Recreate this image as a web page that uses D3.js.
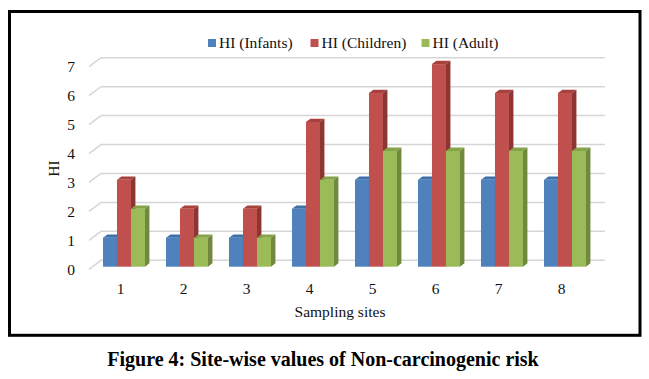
<!DOCTYPE html>
<head>
  <meta charset="utf-8">
  <script src='https://d3js.org/d3.v7.min.js'></script>
  <style>
    body { margin: 0; background: #fff; }
    .tick-label, .legend-label, .axis-title {
      font-family: 'Liberation Serif', serif;
      font-size: 15.5px;
      fill: #111;
    }
    .caption {
      font-family: 'Liberation Serif', 'Times New Roman', serif;
      font-weight: bold;
      font-size: 20px;
      fill: #000;
    }
    .grid { stroke: #d6d6d6; stroke-width: 1.5px; fill: none; }
  </style>
</head>
<body>
<script>
var sites = ['1', '2', '3', '4', '5', '6', '7', '8'];
var infants = [1, 1, 1, 2, 3, 3, 3, 3];
var children = [3, 2, 2, 5, 6, 7, 6, 6];
var adult = [2, 1, 1, 3, 4, 4, 4, 4];
var yTicks = [0, 1, 2, 3, 4, 5, 6, 7];
var seriesNames = ['HI (Infants)', 'HI (Children)', 'HI (Adult)'];

var width = 649, height = 379;
var svg = d3.select('body').append('svg')
  .attr('width', width)
  .attr('height', height);

// frame
svg.append('rect')
  .attr('x', 9.5).attr('y', 11.5)
  .attr('width', 630.5).attr('height', 323.8)
  .attr('fill', '#fff')
  .attr('stroke', '#000')
  .attr('stroke-width', 3);

// 3d depth of the floor: full depth moves right 12, up 9
var depthX = 12, depthY = -9;

var x = d3.scaleBand().domain(sites).range([89, 593]).paddingInner(0).paddingOuter(0);
var y = d3.scaleLinear().domain([0, 7]).range([269.3, 66.7]);

// gridlines (front edge -> back wall)
var grid = svg.append('g');
yTicks.forEach(function(v) {
  grid.append('path')
    .attr('class', 'grid')
    .attr('d', 'M' + x.range()[0] + ',' + y(v) +
      'L' + (x.range()[0] + depthX) + ',' + (y(v) + depthY) +
      'L' + (x.range()[1] + depthX) + ',' + (y(v) + depthY));
});

// y tick labels
svg.selectAll('.ytick')
  .data(yTicks)
  .enter().append('text')
  .attr('class', 'tick-label')
  .attr('x', 71)
  .attr('y', function(d) { return y(d); })
  .attr('dy', '0.35em')
  .attr('text-anchor', 'middle')
  .text(function(d) { return d; });

// x tick labels
svg.selectAll('.xtick')
  .data(sites)
  .enter().append('text')
  .attr('class', 'tick-label')
  .attr('x', function(d) { return x(d) + x.bandwidth() / 2; })
  .attr('y', 288.5)
  .attr('dy', '0.35em')
  .attr('text-anchor', 'middle')
  .text(function(d) { return d; });

svg.append('text')
  .attr('class', 'axis-title')
  .attr('x', 340).attr('y', 311.5)
  .attr('dy', '0.35em')
  .attr('text-anchor', 'middle')
  .text('Sampling sites');

svg.append('text')
  .attr('class', 'axis-title')
  .attr('transform', 'translate(54,168.5) rotate(-90)')
  .attr('dy', '0.35em')
  .attr('text-anchor', 'middle')
  .text('HI');

// bars
var colors = [
  { front: '#4f81bd', top: '#3f6fa8', side: '#385d8a' },
  { front: '#c0504d', top: '#a8403d', side: '#8c3533' },
  { front: '#9bbb59', top: '#86a34a', side: '#71893f' }
];
var series = [infants, children, adult];
var inner = d3.scaleBand().domain([0, 1, 2]).range([0, 42]);
var t0 = 0.29, td = 0.37;   // bar front position and bar thickness in depth
var offX = (x.bandwidth() - 42) / 2;

var bars = svg.append('g');
sites.forEach(function(s, i) {
  series.forEach(function(vals, k) {
    var v = vals[i];
    var x0 = x(s) + offX + inner(k) + depthX * t0;
    var x1 = x0 + inner.bandwidth();
    var yTop = y(v) + depthY * t0;
    var yBot = y(0) + depthY * t0;
    var ddx = depthX * td, ddy = depthY * td;
    var c = colors[k];
    bars.append('rect')
      .attr('x', x0).attr('y', yTop)
      .attr('width', x1 - x0).attr('height', yBot - yTop)
      .attr('fill', c.front);
    bars.append('path')
      .attr('d', 'M' + x0 + ',' + yTop + 'L' + (x0 + ddx) + ',' + (yTop + ddy) +
        'L' + (x1 + ddx) + ',' + (yTop + ddy) + 'L' + x1 + ',' + yTop + 'Z')
      .attr('fill', c.top);
    bars.append('path')
      .attr('d', 'M' + x1 + ',' + yTop + 'L' + (x1 + ddx) + ',' + (yTop + ddy) +
        'L' + (x1 + ddx) + ',' + (yBot + ddy) + 'L' + x1 + ',' + yBot + 'Z')
      .attr('fill', c.side);
  });
});

// legend
var legendX = [208, 310.5, 421.5];
var legend = svg.selectAll('.legend')
  .data(seriesNames)
  .enter().append('g')
  .attr('transform', function(d, i) { return 'translate(' + legendX[i] + ',39)'; });
legend.append('rect')
  .attr('width', 8).attr('height', 8)
  .attr('fill', function(d, i) { return colors[i].front; });
legend.append('text')
  .attr('class', 'legend-label')
  .attr('x', 11).attr('y', 4)
  .attr('dy', '0.35em')
  .text(function(d) { return d; });

// caption
svg.append('text')
  .attr('class', 'caption')
  .attr('x', 323).attr('y', 366)
  .attr('text-anchor', 'middle')
  .text('Figure 4: Site-wise values of Non-carcinogenic risk');
</script>
</body>
